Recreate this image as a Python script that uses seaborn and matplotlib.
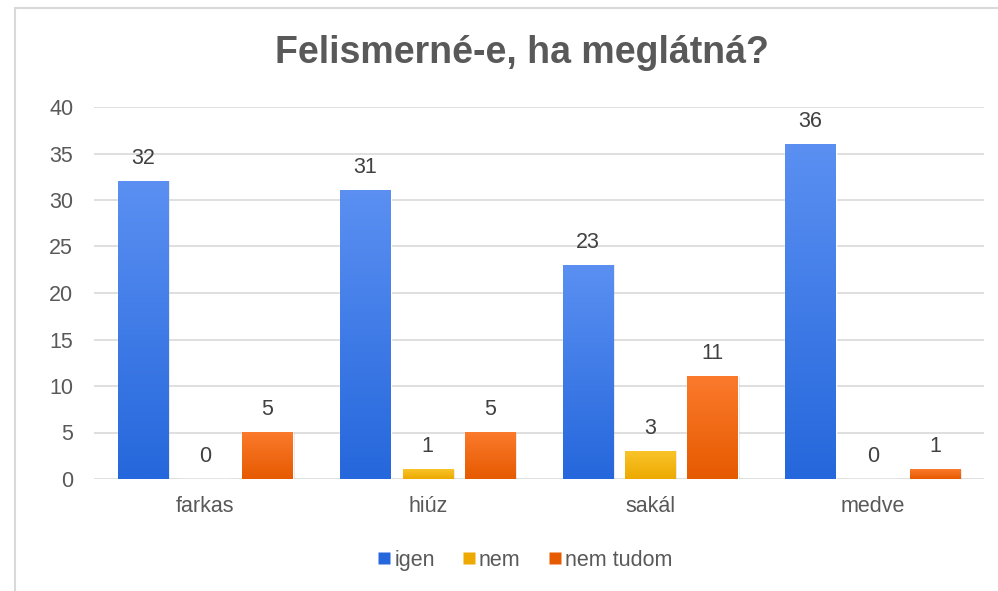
import numpy as np
import pandas as pd
import matplotlib
matplotlib.use("Agg")
import matplotlib.pyplot as plt
import matplotlib.colors as mcolors
from matplotlib.patches import Rectangle
from matplotlib.lines import Line2D
import seaborn as sns

# Survey answers per animal
categories = ["farkas", "hiúz", "sakál", "medve"]
series_names = ["igen", "nem", "nem tudom"]
igen = [32, 31, 23, 36]
nem = [0, 1, 3, 0]
nem_tudom = [5, 5, 11, 1]
y_ticks = [0, 5, 10, 15, 20, 25, 30, 35, 40]

df = pd.DataFrame({
    "állat": categories * 3,
    "válasz": [s for s in series_names for _ in categories],
    "db": igen + nem + nem_tudom,
})

# (top, bottom) gradient colours for each series
grad = {
    "igen": ("#5b90f2", "#2567dc"),
    "nem": ("#f9c42a", "#eda900"),
    "nem tudom": ("#fb7a2c", "#e65a00"),
}
base = {k: v[1] for k, v in grad.items()}

sns.set_theme(style="white")
plt.rcParams["font.family"] = ["Liberation Sans", "DejaVu Sans"]

fig = plt.figure(figsize=(9.98, 5.91), dpi=100)
ax = fig.add_axes([94 / 998, 112 / 591, 890 / 998, 372 / 591])

sns.barplot(data=df, x="állat", y="db", hue="válasz", order=categories,
            hue_order=series_names, palette=base, width=0.84, gap=0.19,
            legend=False, ax=ax, zorder=3)

ax.set_ylim(0, 40)
ax.set_xlim(-0.5, 3.5)
ax.set_yticks(y_ticks)
ax.grid(axis="y", color="#d9d9d9", linewidth=1.2, zorder=0)
ax.grid(axis="x", visible=False)
for s in ax.spines.values():
    s.set_visible(False)
ax.tick_params(axis="both", length=0, labelsize=15.5, labelcolor="#595959")
ax.tick_params(axis="x", pad=12)
ax.tick_params(axis="y", pad=15)
ax.set_xlabel("")
ax.set_ylabel("")

# vertical gradient fill + soft shadow on each bar
for cont, name in zip(ax.containers, series_names):
    top, bot = grad[name]
    cmap = mcolors.LinearSegmentedColormap.from_list(name, [bot, top])
    for p in cont.patches:
        x0, w, h = p.get_x(), p.get_width(), p.get_height()
        if h <= 0:
            continue
        ax.add_patch(Rectangle((x0 + 0.008, 0), w, h, facecolor="#000000",
                               alpha=0.10, linewidth=0, zorder=2))
        g = np.linspace(0, 1, 256).reshape(-1, 1)
        ax.imshow(g, cmap=cmap, origin="lower", aspect="auto",
                  extent=(x0, x0 + w, 0, h), zorder=3.5, interpolation="bilinear")
    ax.bar_label(cont, padding=9, fontsize=15.5, color="#404040")

ax.set_xlim(-0.5, 3.5)
ax.set_ylim(0, 40)

fig.text(0.523, 0.91, "Felismerné-e, ha meglátná?", ha="center", va="center",
         fontsize=27, fontweight="bold", color="#595959")

handles = [Line2D([0], [0], marker="s", linestyle="none", markersize=8,
                  markerfacecolor=grad[n][1], markeredgecolor="none")
           for n in series_names]
fig.legend(handles, series_names, loc="center", bbox_to_anchor=(0.526, 0.052),
           ncol=3, frameon=False, fontsize=15.5, handletextpad=0.15,
           handlelength=0.6, columnspacing=1.3, labelcolor="#595959")

# chart frame
fig.add_artist(Line2D([15 / 998, 15 / 998], [0, 1 - 8 / 591],
                      transform=fig.transFigure, color="#d9d9d9", linewidth=1.5))
fig.add_artist(Line2D([15 / 998, 1], [1 - 8 / 591, 1 - 8 / 591],
                      transform=fig.transFigure, color="#d9d9d9", linewidth=1.5))

fig.savefig("out.png", dpi=100)
